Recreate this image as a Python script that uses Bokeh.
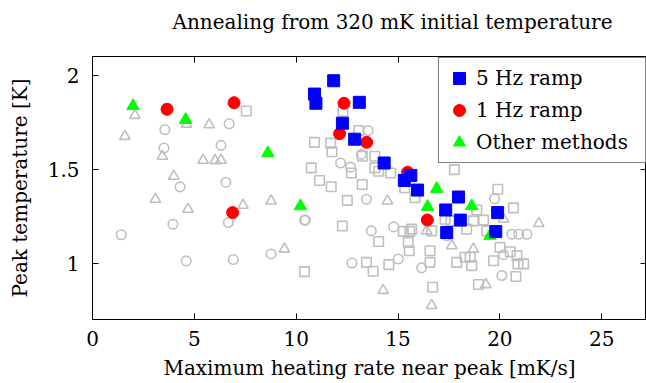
from bokeh.plotting import figure
from bokeh.models import LinearAxis, Legend, LegendItem, FixedTicker, Range1d
from bokeh.embed import file_html
from bokeh.resources import INLINE

FONT = "DejaVu Serif"

title_text = "Annealing from 320 mK initial temperature"
x_label = "Maximum heating rate near peak [mK/s]"
y_label = "Peak temperature [K]"
x_ticks = [0, 5, 10, 15, 20, 25, 30]
y_ticks = [1, 1.5, 2]
y_tick_labels = ["1", "1.5", "2"]

# 5 Hz ramp
hz5_x = [11.84, 10.90, 10.97, 13.10, 12.27, 12.87, 14.32, 15.63, 15.31, 15.96,
         17.97, 17.34, 18.06, 17.39, 19.89, 19.80]
hz5_y = [1.971, 1.900, 1.851, 1.856, 1.745, 1.660, 1.533, 1.467, 1.440, 1.389,
         1.352, 1.283, 1.229, 1.163, 1.269, 1.168]

# 1 Hz ramp
hz1_x = [3.66, 6.95, 6.88, 12.35, 12.13, 13.46, 15.47, 16.44]
hz1_y = [1.819, 1.854, 1.269, 1.851, 1.689, 1.643, 1.484, 1.230]

# Other methods
oth_x = [1.99, 4.57, 8.61, 10.21, 16.90, 16.45, 18.62, 19.52]
oth_y = [1.837, 1.763, 1.586, 1.304, 1.396, 1.300, 1.304, 1.146]

# background (gray) runs
gsq_x = [7.55, 12.30, 13.07, 10.90, 11.69, 11.76, 13.25, 13.86, 13.86, 14.05,
         14.64, 10.74, 12.71, 11.15, 11.72, 13.24, 12.51, 15.33, 15.83, 17.77,
         19.90, 20.67, 18.87, 19.20, 18.70, 17.31, 18.37, 19.36, 15.67, 16.65,
         12.27, 14.05, 15.26, 15.58, 15.50, 15.55, 16.57, 16.57, 13.45, 13.78,
         14.55, 10.41, 16.70, 18.95, 17.88, 18.29, 18.54, 18.62, 19.69, 20.01,
         20.51, 20.84, 20.89, 21.17, 20.79, 17.60]
gsq_y = [1.810, 1.807, 1.706, 1.643, 1.639, 1.593, 1.569, 1.569, 1.507, 1.489,
         1.480, 1.507, 1.480, 1.440, 1.407, 1.419, 1.334, 1.401, 1.348, 1.498,
         1.393, 1.294, 1.283, 1.229, 1.225, 1.234, 1.181, 1.172, 1.181, 1.172,
         1.198, 1.115, 1.169, 1.169, 1.110, 1.066, 1.066, 1.004, 1.004, 0.957,
         0.992, 0.955, 0.872, 0.886, 1.004, 1.031, 1.031, 0.987, 1.013, 1.084,
         1.061, 1.040, 0.996, 0.996, 0.929, 1.225]

gci_x = [3.55, 6.71, 3.51, 6.31, 4.30, 6.55, 3.95, 6.67, 1.41, 4.60,
         6.91, 8.77, 13.53, 13.20, 12.18, 12.67, 13.45, 10.41, 10.45, 13.69,
         14.79, 12.74, 15.01, 16.16, 17.39, 19.74, 20.59, 20.92, 21.33, 20.18,
         20.10]
gci_y = [1.710, 1.742, 1.613, 1.627, 1.406, 1.431, 1.207, 1.216, 1.151, 1.012,
         1.019, 1.049, 1.706, 1.579, 1.533, 1.511, 1.340, 1.229, 1.229, 1.172,
         1.193, 1.001, 1.022, 0.975, 1.146, 1.343, 1.154, 1.154, 1.154, 1.045,
         0.934]

gtr_x = [2.08, 1.59, 4.62, 5.73, 3.43, 5.43, 6.02, 6.31, 3.99, 3.09,
         4.69, 7.39, 8.77, 9.42, 14.48, 14.27, 16.65, 16.40, 17.64, 18.70,
         19.31, 20.18, 21.91]
gtr_y = [1.787, 1.675, 1.740, 1.737, 1.569, 1.548, 1.546, 1.548, 1.463, 1.340,
         1.287, 1.308, 1.331, 1.075, 1.331, 0.855, 0.775, 1.172, 1.093, 1.075,
         0.886, 1.234, 1.211]

GRAY = "#bfbfbf"

p = figure(width=646, height=383,
           x_range=Range1d(0, 27.2), y_range=Range1d(0.7, 2.1),
           output_backend="svg", toolbar_location=None,
           min_border_left=92, min_border_right=0,
           min_border_top=55, min_border_bottom=64)

p.title.text = title_text
p.title.text_font = FONT
p.title.text_font_size = "20px"
p.title.text_font_style = "normal"
p.title.text_color = "black"
p.title.align = "left"
p.title.offset = 80
p.title.standoff = 14

p.grid.visible = False
p.outline_line_color = "black"
p.outline_line_width = 1

xt = FixedTicker(ticks=x_ticks)
yt = FixedTicker(ticks=y_ticks)

for ax in (p.xaxis[0], p.yaxis[0]):
    ax.major_tick_in = 6
    ax.major_tick_out = 0
    ax.minor_tick_line_color = None
    ax.axis_line_color = "black"
    ax.major_tick_line_color = "black"
    ax.major_label_text_font = FONT
    ax.major_label_text_font_size = "20px"
    ax.major_label_text_color = "black"
    ax.axis_label_text_font = FONT
    ax.axis_label_text_font_size = "20px"
    ax.axis_label_text_font_style = "normal"
    ax.axis_label_text_color = "black"

p.xaxis[0].ticker = xt
p.yaxis[0].ticker = yt
p.xaxis[0].axis_label = x_label
p.yaxis[0].axis_label = y_label
p.xaxis[0].major_label_standoff = 11
p.xaxis[0].axis_label_standoff = 7
p.yaxis[0].major_label_standoff = 13
p.yaxis[0].axis_label_standoff = 13
p.yaxis[0].major_label_overrides = {t: l for t, l in zip(y_ticks, y_tick_labels)}

top_axis = LinearAxis(ticker=FixedTicker(ticks=x_ticks), major_tick_in=6, major_tick_out=0,
                      minor_tick_line_color=None, major_label_text_font_size="1px",
                      major_label_text_color=None,
                      major_label_standoff=0, axis_line_color="black")
right_axis = LinearAxis(ticker=FixedTicker(ticks=y_ticks), major_tick_in=6, major_tick_out=0,
                        minor_tick_line_color=None, major_label_text_font_size="1px",
                        major_label_text_color=None,
                        major_label_standoff=0, axis_line_color="black")
# invisible spacer between the top ticks and the title
spacer_axis = LinearAxis(ticker=FixedTicker(ticks=x_ticks), major_tick_in=0, major_tick_out=16,
                         minor_tick_in=0, minor_tick_out=0,
                         major_tick_line_color=None, minor_tick_line_color=None,
                         axis_line_color=None, major_label_text_font_size="1px",
                         major_label_text_color=None, major_label_standoff=0)
p.add_layout(top_axis, "above")
p.add_layout(spacer_axis, "above")
p.add_layout(right_axis, "right")

p.scatter(gsq_x, gsq_y, marker="square", size=9.5, fill_color=None,
          line_color=GRAY, line_width=1.6)
p.scatter(gci_x, gci_y, marker="circle", size=9.5, fill_color=None,
          line_color=GRAY, line_width=1.6)
p.scatter(gtr_x, gtr_y, marker="triangle", size=10.5, fill_color=None,
          line_color=GRAY, line_width=1.6)

r_oth = p.scatter(oth_x, oth_y, marker="triangle", size=12.5, fill_color="#00ff00",
                  line_color="#00ff00", line_width=1)
r_1 = p.scatter(hz1_x, hz1_y, marker="circle", size=12, fill_color="#ff0000",
                line_color="#ff0000", line_width=1)
r_5 = p.scatter(hz5_x, hz5_y, marker="square", size=12, fill_color="#0000ff",
                line_color="#0000ff", line_width=1)

legend = Legend(items=[LegendItem(label="5 Hz ramp", renderers=[r_5]),
                       LegendItem(label="1 Hz ramp", renderers=[r_1]),
                       LegendItem(label="Other methods", renderers=[r_oth])],
                location=(346, 156))
legend.label_text_font = FONT
legend.label_text_font_size = "20px"
legend.label_text_color = "black"
legend.border_line_color = "black"
legend.border_line_width = 1
legend.background_fill_color = "white"
legend.background_fill_alpha = 1
legend.glyph_width = 30
legend.glyph_height = 30
legend.label_height = 30
legend.label_width = 164
legend.label_standoff = 2
legend.padding = 5
legend.spacing = 2
legend.margin = 0
p.add_layout(legend)

open("out.html", "w").write(file_html(p, INLINE))
